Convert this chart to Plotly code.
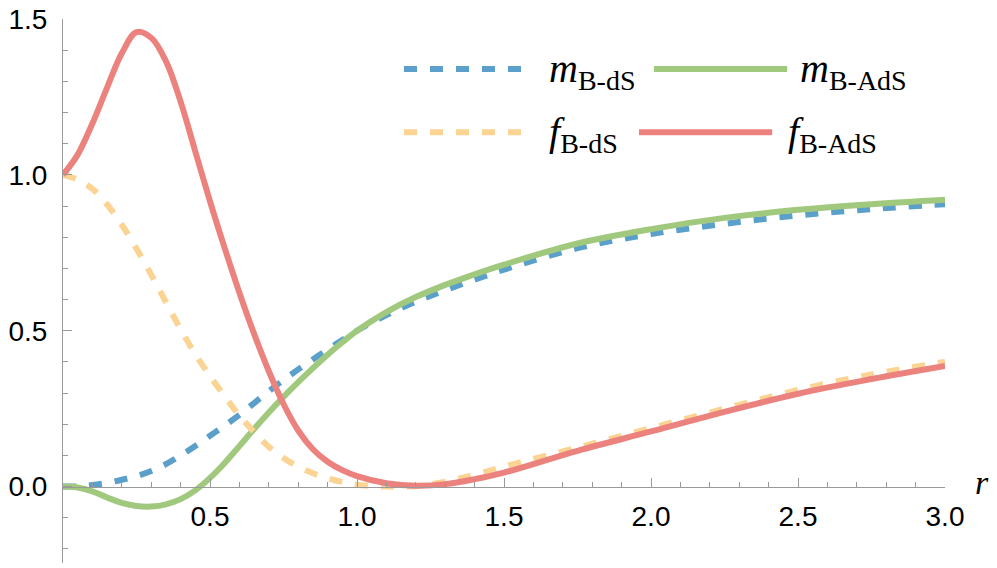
import plotly.graph_objects as go

# %% DATA
r = [0.0, 0.05, 0.1, 0.15, 0.2, 0.25, 0.3, 0.35, 0.4, 0.45, 0.5,
     0.55, 0.6, 0.65, 0.7, 0.75, 0.8, 0.85, 0.9, 0.95, 1.0,
     1.1, 1.2, 1.3, 1.4, 1.5, 1.75, 2.0, 2.25, 2.5, 2.75, 3.0]

m_b_ds = [0.0, 0.001, 0.005, 0.012, 0.022, 0.034, 0.05, 0.072, 0.1, 0.13, 0.163,
          0.196, 0.23, 0.268, 0.306, 0.342, 0.376, 0.408, 0.44, 0.47, 0.5,
          0.55, 0.593, 0.63, 0.664, 0.696, 0.765, 0.81, 0.843, 0.87, 0.89, 0.906]

m_b_ads = [0.0, -0.003, -0.015, -0.035, -0.052, -0.062, -0.064, -0.057, -0.04, -0.012, 0.028,
           0.076, 0.13, 0.185, 0.238, 0.288, 0.335, 0.38, 0.423, 0.463, 0.5,
           0.56, 0.608, 0.647, 0.681, 0.712, 0.78, 0.826, 0.862, 0.888, 0.906, 0.92]

f_b_ds = [1.0, 0.985, 0.955, 0.905, 0.84, 0.763, 0.68, 0.592, 0.505, 0.425, 0.355,
          0.29, 0.228, 0.175, 0.128, 0.092, 0.064, 0.043, 0.027, 0.015, 0.006,
          0.0, 0.002, 0.016, 0.038, 0.064, 0.125, 0.188, 0.25, 0.31, 0.36, 0.40]

f_b_ads = [1.0, 1.065, 1.165, 1.28, 1.39, 1.458, 1.44, 1.365, 1.235, 1.075, 0.915,
           0.765, 0.622, 0.49, 0.37, 0.265, 0.18, 0.12, 0.08, 0.053, 0.034,
           0.011, 0.003, 0.008, 0.024, 0.045, 0.115, 0.177, 0.24, 0.298, 0.345, 0.387]

x_ticks = [0.5, 1.0, 1.5, 2.0, 2.5, 3.0]
y_ticks = [0.0, 0.5, 1.0, 1.5]

BLUE = '#5aa0cb'
GREEN = '#a0c97e'
YELLOW = '#fbd393'
RED = '#ec827d'
AXIS = '#9a9a9a'

Y_MIN, Y_MAX = -0.245, 1.5

# %% PLOT
fig = go.Figure()

series = [
    (m_b_ds, BLUE, '13px,13px'),
    (m_b_ads, GREEN, 'solid'),
    (f_b_ds, YELLOW, '13px,13px'),
    (f_b_ads, RED, 'solid'),
]
for ys, col, dash in series:
    fig.add_trace(go.Scatter(
        x=r, y=ys, mode='lines',
        line=dict(color=col, width=6, dash=dash, shape='spline', smoothing=1.0),
        showlegend=False, hoverinfo='skip',
    ))

tickfont = dict(family='Liberation Sans, Arial, sans-serif', size=28, color='black')

fig.update_xaxes(
    range=[0, 3],
    anchor='free',
    position=(0 - Y_MIN) / (Y_MAX - Y_MIN),
    showline=True, linecolor=AXIS, linewidth=1,
    ticks='inside', ticklen=9, tickcolor=AXIS, tickwidth=1,
    tickmode='array', tickvals=x_ticks, ticktext=[f'{v:.1f}' for v in x_ticks],
    minor=dict(ticks='inside', ticklen=5, tickcolor=AXIS, dtick=0.1, tick0=0),
    ticklabelstandoff=5, ticklabeloverflow='allow',
    showgrid=False, zeroline=False, automargin=False,
    tickfont=tickfont,
)
fig.update_yaxes(
    range=[Y_MIN, Y_MAX],
    showline=True, linecolor=AXIS, linewidth=1,
    ticks='inside', ticklen=9, tickcolor=AXIS, tickwidth=1,
    tickmode='array', tickvals=y_ticks, ticktext=[f'{v:.1f}' for v in y_ticks],
    minor=dict(ticks='inside', ticklen=5, tickcolor=AXIS, dtick=0.1, tick0=0),
    ticklabelstandoff=9, ticklabeloverflow='allow',
    showgrid=False, zeroline=False, automargin=False,
    tickfont=tickfont,
)

# axis label r
fig.add_annotation(
    x=3.0, y=0, xref='x', yref='y', text='<i>r</i>', showarrow=False,
    xanchor='left', yanchor='middle', xshift=28, yshift=4,
    font=dict(family='Liberation Serif, serif', size=34, color='black'),
)

# hand-built legend (line samples are longer than plotly's legend allows)
serif = dict(family='Liberation Serif, serif', size=40, color='black')
legend_rows = [
    # (x0, x1, y, colour, dash, label, label_x)
    (0.3866, 0.5227, 0.908, BLUE, 'dash', '<i>m</i><sub>B-dS</sub>', 0.5488),
    (0.670, 0.821, 0.908, GREEN, 'solid', '<i>m</i><sub>B-AdS</sub>', 0.8333),
    (0.3866, 0.5227, 0.792, YELLOW, 'dash', '<i>f</i><sub>B-dS</sub>', 0.5488),
    (0.653, 0.804, 0.792, RED, 'solid', '<i>f</i><sub>B-AdS</sub>', 0.8197),
]
for x0, x1, yy, col, dash, label, lx in legend_rows:
    fig.add_shape(
        type='line', xref='paper', yref='paper', x0=x0, x1=x1, y0=yy, y1=yy,
        line=dict(color=col, width=6, dash='13px,13px' if dash == 'dash' else 'solid'),
    )
    fig.add_annotation(
        x=lx, y=yy, xref='paper', yref='paper', text=label, showarrow=False,
        xanchor='left', yanchor='middle', yshift=-2, font=serif,
    )

# the page puts the figure 8px in from the top-left corner
fig.update_layout(
    width=989, height=560,
    margin=dict(l=55, r=52, t=11, b=5, autoexpand=False),
    plot_bgcolor='white', paper_bgcolor='white',
    showlegend=False,
)

fig.write_html('out.html')
